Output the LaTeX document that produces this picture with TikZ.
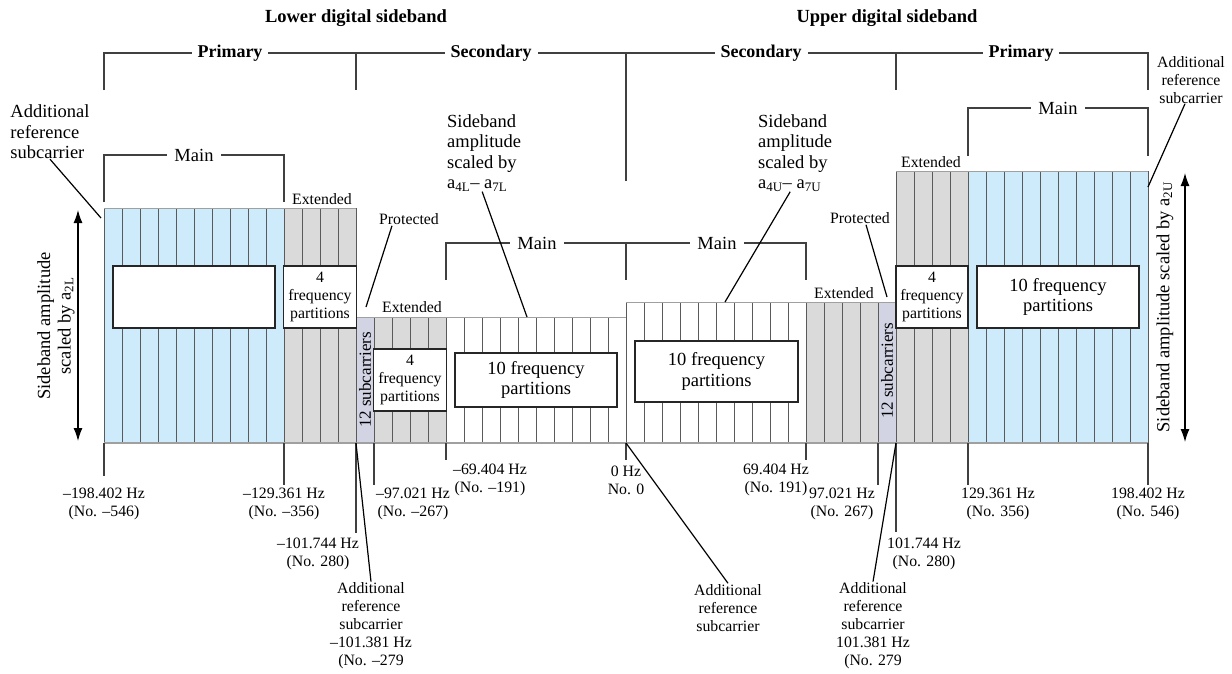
\documentclass[tikz,border=0pt]{standalone}
\usepackage{fontspec}
\setmainfont{Liberation Serif}
\usetikzlibrary{positioning,arrows.meta}
\definecolor{mainblue}{HTML}{CDEBFB}
\definecolor{extgray}{HTML}{D9DAD9}
\definecolor{protgray}{HTML}{D2D4E4}
\definecolor{cellgray}{HTML}{5A5A5A}
\definecolor{edgegray}{HTML}{A0A0A0}

\begin{document}
\begin{tikzpicture}[x=1pt, y=-1pt,
  font=\fontsize{18.5}{20.5}\selectfont,
  % --- Estilos ---
  small/.style={font=\fontsize{15.8}{18}\selectfont},
  head/.style={font=\bfseries\fontsize{18}{21}\selectfont, fill=white, inner xsep=6pt, inner ysep=2pt},
  title/.style={font=\bfseries\fontsize{18.5}{21}\selectfont},
  tag/.style={fill=white, inner xsep=7pt, inner ysep=2pt},
  cell/.style={draw=cellgray, line width=0.7pt},
  partbox/.style={rectangle, draw=black!85, line width=1.5pt, fill=white, inner sep=0pt, align=center},
  bracket/.style={draw=black!75, line width=1.4pt},
  leader/.style={draw=black, line width=1.2pt},
  tick/.style={draw=black!75, line width=1.2pt},
  amparrow/.style={{Latex[length=13pt,width=9pt]}-{Latex[length=13pt,width=9pt]}, line width=1.2pt}
]
\useasboundingbox (0,0) rectangle (1232,673);

% ---- BANDAS DE SUBPORTADORAS ----
\foreach \a/\b/\t/\c in {0/10/208/mainblue, 10/14/208/extgray, 14/15/317/protgray,
    15/19/317/extgray, 19/29/317/white, 29/39/302/white, 39/43/302/extgray,
    43/44/302/protgray, 44/48/171/extgray, 48/58/171/mainblue}{
  \fill[\c] ({104+18*\a},\t) rectangle ({104+18*\b},443);
  \foreach \k in {\a,...,\b}
    \draw[cell] ({104+18*\k},\t) -- ({104+18*\k},443);
  \draw[edgegray, line width=0.9pt] ({104+18*\a},\t) -- ({104+18*\b},\t);
}
\draw[edgegray, line width=1.2pt] (104,443) -- (1148,443);

% ---- PARTICIONES ----
\node[partbox, minimum width=162pt, minimum height=62pt] (boxLP) at (194,297) {};
\node[partbox, small, minimum width=73pt, minimum height=62pt] (boxLE) at (320,297) {4\\frequency\\partitions};
\node[partbox, small, minimum width=73pt, minimum height=62pt] (boxLSE) at (410,380) {4\\frequency\\partitions};
\node[partbox, minimum width=162pt, minimum height=54pt] (boxLSM) at (536,380) {10 frequency\\partitions};
\node[partbox, minimum width=163pt, minimum height=61pt] (boxUSM) at (716.5,371.5) {10 frequency\\partitions};
\node[partbox, small, minimum width=72pt, minimum height=62pt] (boxUE) at (932,297) {4\\frequency\\partitions};
\node[partbox, minimum width=162pt, minimum height=62pt] (boxUP) at (1058,297) {10 frequency\\partitions};

\node[rotate=90, font=\fontsize{17}{19}\selectfont, inner sep=0pt] (subL) at (365,380) {12 subcarriers};
\node[rotate=90, font=\fontsize{17}{19}\selectfont, inner sep=0pt] (subU) at (887,371) {12 subcarriers};

% ---- EJES DE AMPLITUD ----
\draw[amparrow] (78,210) -- (78,441);
\node[rotate=90, align=center, inner sep=0pt] (ampL) at (56,326) {Sideband amplitude\\scaled by a\textsubscript{2L}};
\draw[amparrow] (1185,173) -- (1185,442);
\node[rotate=90, inner sep=0pt] (ampU) at (1165,307) {Sideband amplitude scaled by a\textsubscript{2U}};

% ---- LLAVES SUPERIORES ----
\node[title] (lowSB) at (356,18) {Lower digital sideband};
\node[title] (uppSB) at (887,18) {Upper digital sideband};

\draw[bracket] (104,90) -- (104,53) -- (1148,53) -- (1148,90);
\draw[bracket] (356,53) -- (356,90);
\draw[bracket] (896,53) -- (896,90);
\draw[bracket] (626,53) -- (626,181);
\node[head] (priL) at (230,53) {Primary};
\node[head] (secL) at (491,53) {Secondary};
\node[head] (secU) at (761,53) {Secondary};
\node[head] (priU) at (1021,53) {Primary};

\draw[bracket] (104,202) -- (104,155) -- (284,155) -- (284,202);
\node[tag] (mainLP) at (194,155) {Main};
\draw[bracket] (968,156) -- (968,108) -- (1148,108) -- (1148,156);
\node[tag] (mainUP) at (1058,108) {Main};
\draw[bracket] (446,280) -- (446,243) -- (806,243) -- (806,280);
\draw[bracket] (626,243) -- (626,280);
\node[tag] (mainLS) at (537,243) {Main};
\node[tag] (mainUS) at (717,243) {Main};

% ---- ETIQUETAS ----
\node[small] (extLP) at (322,199) {Extended};
\node[small] (extLS) at (412,307) {Extended};
\node[small] (extUS) at (844,293) {Extended};
\node[small] (extUP) at (931,162) {Extended};

\node[small, inner sep=1pt] (protL) at (409,219) {Protected};
\node[small, inner sep=1pt] (protU) at (860,218) {Protected};
\coordinate (protLpt) at (366,307);
\coordinate (protUpt) at (887,297);
\draw[leader] ([xshift=-17pt]protL.south) -- (protLpt);
\draw[leader] ([xshift=6pt]protU.south) -- (protUpt);

\node[align=left, inner sep=0pt] (addTL) at (50,132) {Additional\\reference\\subcarrier};
\coordinate (addTLpt) at (101,218);
\draw[leader] (addTL.south) -- (addTLpt);
\node[small, align=center, inner sep=0pt] (addTR) at (1191,80) {Additional\\reference\\subcarrier};
\coordinate (addTRpt) at (1148,187);
\draw[leader] ([xshift=-6pt]addTR.south) -- (addTRpt);

\node[align=left, anchor=west, inner sep=0pt] (sbL) at (447,153) {Sideband\\amplitude\\scaled by\\a\textsubscript{4L}– a\textsubscript{7L}};
\coordinate (sbLpt) at (527,317);
\draw[leader] ([xshift=-2pt]sbL.south) -- (sbLpt);
\node[align=left, anchor=west, inner sep=0pt] (sbU) at (758,153) {Sideband\\amplitude\\scaled by\\a\textsubscript{4U}– a\textsubscript{7U}};
\coordinate (sbUpt) at (725,302);
\draw[leader] ([xshift=-5pt]sbU.south) -- (sbUpt);

% ---- FRECUENCIAS ----
\coordinate (fm198) at (104,443);
\coordinate (fm129) at (284,443);
\coordinate (fm101) at (356,443);
\coordinate (fm97) at (374,443);
\coordinate (fm69) at (446,443);
\coordinate (f0) at (626,443);
\coordinate (fp69) at (806,443);
\coordinate (fp97) at (878,443);
\coordinate (fp101) at (896,443);
\coordinate (fp129) at (968,443);
\coordinate (fp198) at (1148,443);

\node[small, align=center] (lm198) at (104,504) {–198.402 Hz\\(No. –546)};
\node[small, align=center] (lm129) at (284,504) {–129.361 Hz\\(No. –356)};
\node[small, align=center] (lm101) at (318,554) {–101.744 Hz\\(No. 280)};
\node[small, align=center] (lm97) at (413,504) {–97.021 Hz\\(No. –267)};
\node[small, align=center] (lm69) at (490,480) {–69.404 Hz\\(No. –191)};
\node[small, align=center] (l0) at (626,480) {0 Hz\\No. 0};
\node[small, align=center] (lp69) at (776,480) {69.404 Hz\\(No. 191)};
\node[small, align=center] (lp97) at (842,504) {97.021 Hz\\(No. 267)};
\node[small, align=center] (lp101) at (924,554) {101.744 Hz\\(No. 280)};
\node[small, align=center] (lp129) at (998,504) {129.361 Hz\\(No. 356)};
\node[small, align=center] (lp198) at (1148,504) {198.402 Hz\\(No. 546)};

\draw[tick] (fm198) -- ++(0,33);
\draw[tick] (fm129) -- ++(0,42);
\draw[tick] (fm101) -- ++(0,90);
\draw[tick] (fm97) -- ++(0,42);
\draw[tick] (fm69) -- ++(0,17);
\draw[tick] (f0) -- ++(0,17);
\draw[tick] (fp69) -- ++(0,17);
\draw[tick] (fp97) -- ++(0,42);
\draw[tick] (fp101) -- ++(0,89);
\draw[tick] (fp129) -- ++(0,42);
\draw[tick] (fp198) -- ++(0,42);

\node[small, align=center, inner sep=1pt] (refL) at (371,626) {Additional\\reference\\subcarrier\\–101.381 Hz\\(No. –279};
\node[small, align=center, inner sep=1pt] (refC) at (728,608) {Additional\\reference\\subcarrier};
\node[small, align=center, inner sep=1pt] (refU) at (873,626) {Additional\\reference\\subcarrier\\101.381 Hz\\(No. 279};
\draw[leader] (fm101) -- (refL.north);
\draw[leader] (f0) -- (refC.north);
\draw[leader] (fp101) -- (refU.north);

\end{tikzpicture}
\end{document}
